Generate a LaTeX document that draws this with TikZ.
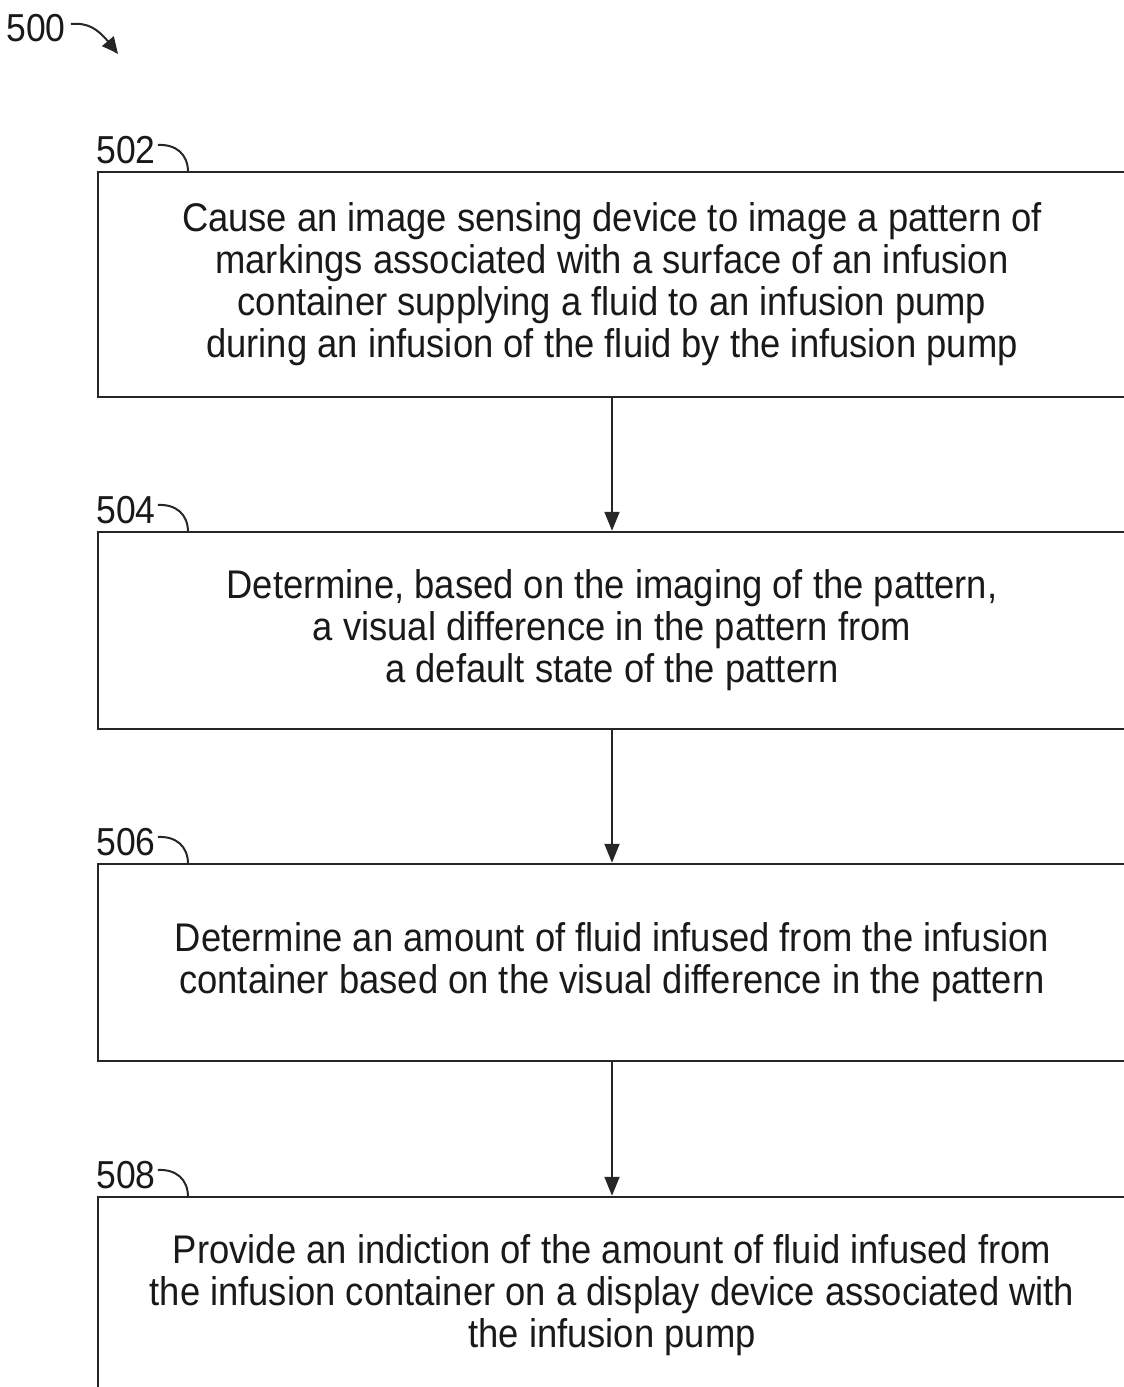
\documentclass[tikz,border=0pt]{standalone}
\usepackage{fontspec}
\setmainfont[FakeStretch=0.91]{Liberation Sans}
\usetikzlibrary{arrows.meta,bending}
\begin{document}
\begin{tikzpicture}[x=1pt,y=-1pt,
  stepbox/.style={draw=black!85, line width=2.5pt, rectangle, minimum width=1028pt, align=center,
    font=\fontsize{40}{42}\selectfont, text=black!90, inner sep=0pt},
  reflabel/.style={font=\fontsize{39}{42}\selectfont, text=black!90, inner sep=0pt},
  flow/.style={draw=black!85, line width=2pt, -{Triangle[length=19pt,width=15pt]}},
  hook/.style={draw=black!85, line width=2pt}]
\useasboundingbox (0,0) rectangle (1124,1387);
\node[stepbox, minimum height=225pt] (s502) at (612,284.5) {Cause an image sensing device to image a pattern of\\markings associated with a surface of an infusion\\container supplying a fluid to an infusion pump\\during an infusion of the fluid by the infusion pump};
\node[stepbox, minimum height=197pt] (s504) at (612,630.5) {Determine, based on the imaging of the pattern,\\a visual difference in the pattern from\\a default state of the pattern};
\node[stepbox, minimum height=197pt] (s506) at (612,962.5) {Determine an amount of fluid infused from the infusion\\container based on the visual difference in the pattern};
\node[stepbox, minimum height=197pt] (s508) at (612,1295.5) {Provide an indiction of the amount of fluid infused from\\the infusion container on a display device associated with\\the infusion pump};
\draw[flow] (s502.south) -- (s504.north);
\draw[flow] (s504.south) -- (s506.north);
\draw[flow] (s506.south) -- (s508.north);
% reference labels
\node[reflabel] (l500) at (36,28) {500};
\node[reflabel] (l502) at (126,150) {502};
\node[reflabel] (l504) at (126,510) {504};
\node[reflabel] (l506) at (126,842) {506};
\node[reflabel] (l508) at (126,1175) {508};
\coordinate (t500) at (118,54);
\draw[hook, -{Triangle[length=17pt,width=15pt,bend]}] (l500.east) ++(5,-4) .. controls +(22,-2) and (102,33) .. (t500);
\draw[hook] (l502.east) ++(2,-5) .. controls +(18,-1) and (188,154) .. (188,172);
\draw[hook] (l504.east) ++(2,-5) .. controls +(18,-1) and (188,514) .. (188,532);
\draw[hook] (l506.east) ++(2,-5) .. controls +(18,-1) and (188,846) .. (188,864);
\draw[hook] (l508.east) ++(2,-5) .. controls +(18,-1) and (188,1179) .. (188,1197);
\end{tikzpicture}
\end{document}
